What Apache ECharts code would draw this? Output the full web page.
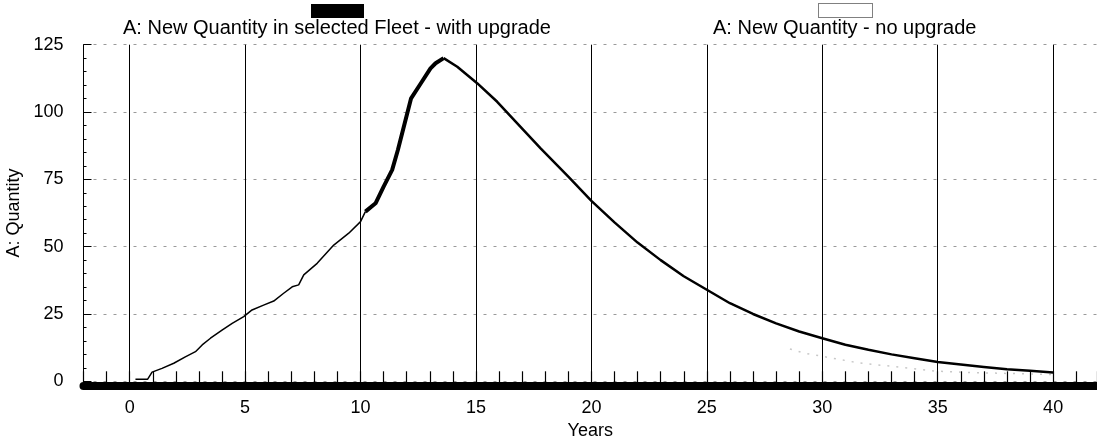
<!DOCTYPE html>
<html>
<head>
<meta charset="utf-8">
<script src="https://cdn.jsdelivr.net/npm/echarts@6/dist/echarts.min.js"></script>
<style>
html,body{margin:0;padding:0;background:#fff;}
#chart{width:1097px;height:440px;}
</style>
</head>
<body>
<div id="chart"></div>
<script>
// ---- data ----
var seriesWithName = 'A: New Quantity in selected Fleet - with upgrade';
var seriesNoName = 'A: New Quantity - no upgrade';
var yAxisName = 'A: Quantity';
var xAxisName = 'Years';
var gridYears = [0, 5, 10, 15, 20, 25, 30, 35, 40];

// with upgrade: early rise (thin line)
var riseYears = [0.25,0.78,0.97,1.4,1.91,2.41,2.85,3.14,3.5,4.0,4.44,4.94,5.3,5.8,6.24,6.67,7.04,7.32,7.54,8.12,8.84,9.49,10.0,10.21];
var riseValues = [0.8,0.8,3.4,4.8,6.7,9.1,11,13.5,16,19,21.5,24,26.5,28.3,29.8,32.7,35.1,35.8,39.5,43.8,50.6,55,59.3,63];
// with upgrade: steep climb to peak (thick line)
var peakYears = [10.21,10.65,11.0,11.37,11.62,12.19,12.6,13.03,13.25,13.6];
var peakValues = [63,66.1,72.3,78.5,86,105.1,110.5,116.2,118.1,120];
// with upgrade: decline
var declineYears = [13.6,14.19,15.05,15.92,16.93,17.8,19,20,21,22,23,24,25,26,27,28,29,30,31,32,33,34,35,36,37,38,39,40];
var declineValues = [120,116.8,110.7,103.8,94.5,86.5,76,67,59,51.5,45,39,34,29,25,21.5,18.5,16,13.6,11.7,10,8.6,7.2,6.2,5.3,4.5,3.9,3.3];
// no upgrade (faint dotted)
var noUpYears = [28.6,29.2,31.6,33.2,34.9,36.5,37.7,39,40];
var noUpValues = [12,10.5,6.8,5.4,3.8,3.2,3.0,2.7,2.5];

function pairs(xs, ys){ return xs.map(function(x,i){ return [x, ys[i]]; }); }

var FONT = '"Liberation Sans", Arial, sans-serif';
var chart = echarts.init(document.getElementById('chart'), null, {renderer:'canvas'});

var option = {
  backgroundColor: '#fff',
  animation: false,
  textStyle: {fontFamily: FONT, color: '#000'},
  legend: [
    {data: [seriesWithName], left: 311, top: 4, padding: 0, itemWidth: 53, itemHeight: 14, icon: 'rect',
     formatter: function(){ return ''; }, selectedMode: false},
    {data: [seriesWithName], left: 118, top: 18, padding: 0, itemWidth: 0, itemHeight: 0, icon: 'rect',
     textStyle: {fontSize: 20, color: '#000', fontFamily: FONT}, selectedMode: false},
    {data: [seriesNoName], left: 818, top: 3, padding: 0, itemWidth: 54, itemHeight: 14, icon: 'rect',
     itemStyle: {color: '#fff', borderColor: '#000', borderWidth: 1, borderType: 'dotted'},
     formatter: function(){ return ''; }, selectedMode: false},
    {data: [seriesNoName], left: 708, top: 18, padding: 0, itemWidth: 0, itemHeight: 0, icon: 'rect',
     textStyle: {fontSize: 20, color: '#000', fontFamily: FONT}, selectedMode: false}
  ],
  grid: {left: 83.5, right: 0, top: 44.7, bottom: 58.7, containLabel: false, outerBoundsMode: 'none'},
  xAxis: {
    type: 'value', min: -2, max: 41.9, interval: 1,
    offset: 4,
    name: xAxisName, nameLocation: 'middle', nameGap: 33,
    nameTextStyle: {fontSize: 18, color: '#000', fontFamily: FONT},
    axisLine: {show: true, onZero: false, lineStyle: {color: '#000', width: 8}},
    axisTick: {show: true, inside: true, length: 14, lineStyle: {color: '#000', width: 1.2}},
    axisLabel: {fontSize: 18, color: '#000', margin: 14, fontFamily: FONT,
      formatter: function(v){ return (Math.round(v) === v && v % 5 === 0 && v >= 0 && v <= 40) ? String(v) : ''; }},
    splitLine: {show: false}
  },
  yAxis: {
    type: 'value', min: 0, max: 125, interval: 25,
    name: yAxisName, nameLocation: 'middle', nameGap: 50, nameRotate: 90,
    nameTextStyle: {fontSize: 18, color: '#000', fontFamily: FONT},
    axisLine: {show: true, onZero: false, lineStyle: {color: '#000', width: 1}},
    axisTick: {show: true, inside: true, length: 8, lineStyle: {color: '#000'}},
    minorTick: {show: true, splitNumber: 5, length: 3, lineStyle: {color: '#000'}},
    axisLabel: {fontSize: 18, color: '#000', margin: 20, fontFamily: FONT},
    splitLine: {show: true, lineStyle: {color: '#9a9a9a', width: 1, type: [3, 7]}}
  },
  series: [
    {name: seriesNoName, type: 'line', data: pairs(noUpYears, noUpValues), showSymbol: false,
     lineStyle: {color: '#c8c8c8', width: 1.5, type: [2, 7]}, itemStyle: {color: '#fff'}, z: 1},
    {name: seriesWithName, type: 'line', data: pairs(riseYears, riseValues), showSymbol: false,
     lineStyle: {color: '#000', width: 1.5}, itemStyle: {color: '#000'}, z: 3,
     markLine: {silent: true, symbol: 'none', label: {show: false},
       lineStyle: {color: '#000', width: 1, type: 'solid'},
       data: gridYears.map(function(y){ return {xAxis: y}; })}},
    {name: seriesWithName, type: 'line', data: pairs(peakYears, peakValues), showSymbol: false,
     lineStyle: {color: '#000', width: 4, join: 'round'}, itemStyle: {color: '#000'}, z: 3},
    {name: seriesWithName, type: 'line', data: pairs(declineYears, declineValues), showSymbol: false,
     lineStyle: {color: '#000', width: 2.5, join: 'round'}, itemStyle: {color: '#000'}, z: 3}
  ]
};
chart.setOption(option);
</script>
</body>
</html>
